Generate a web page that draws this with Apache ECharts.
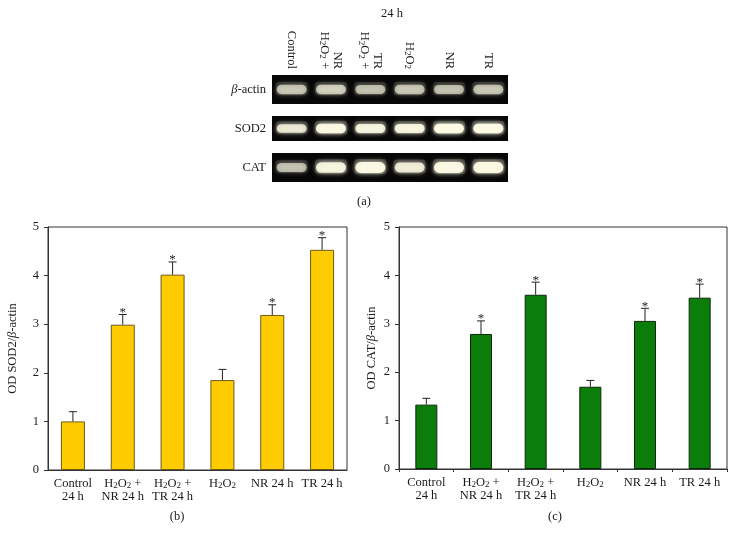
<!DOCTYPE html>
<html>
<head>
<meta charset="utf-8">
<script src="https://cdn.jsdelivr.net/npm/echarts@6/dist/echarts.min.js"></script>
<style>html,body{margin:0;padding:0;background:#fff;}#c{width:736px;height:533px;}</style>
</head>
<body>
<div id="c"></div>
<script>
// ---- data ----
const categories = ['Control\n24 h', 'H\u2082O\u2082 +\nNR 24 h', 'H\u2082O\u2082 +\nTR 24 h', 'H\u2082O\u2082', 'NR 24 h', 'TR 24 h'];
const sod2Values = [1.0, 2.99, 4.02, 1.85, 3.19, 4.53];
const sod2ErrTop = [1.2, 3.2, 4.28, 2.07, 3.4, 4.78];
const sod2Sig = [0, 1, 1, 0, 1, 1];
const catValues = [1.33, 2.79, 3.6, 1.7, 3.06, 3.54];
const catErrTop = [1.46, 3.06, 3.86, 1.83, 3.32, 3.82];
const catSig = [0, 1, 1, 0, 1, 1];
const yTicks = [0, 1, 2, 3, 4, 5];
const gelLanes = ['Control', 'H\u2082O\u2082 +\nNR', 'H\u2082O\u2082 +\nTR', 'H\u2082O\u2082', 'NR', 'TR'];
const gelRows = ['β-actin', 'SOD2', 'CAT'];
const actinBand = [0.62, 0.66, 0.6, 0.62, 0.6, 0.62];
const sod2Band = [0.8, 0.95, 0.88, 0.9, 1.0, 1.0];
const catBand = [0.6, 0.88, 0.95, 0.82, 0.95, 0.95];
const gelBands = [actinBand, sod2Band, catBand];

// ---- styles ----
const FONT = '"Liberation Serif", "DejaVu Serif", serif';
const TXT = '#1a1a1a';
const FS = 12.5;

// converts "H₂O₂" into rich text with a lowered subscript
function subRich(v, reverseLines) {
  let lines = v.split('\n');
  if (reverseLines) lines = lines.reverse();
  return lines.map(l => '{n|' + l.split('\u2082').join('}{s|2}{n|') + '}').join('\n');
}
const labelRich = {
  n: {fontFamily: FONT, fontSize: FS, color: TXT, lineHeight: 13, verticalAlign: 'middle'},
  s: {fontFamily: FONT, fontSize: 9, color: TXT, lineHeight: 5, verticalAlign: 'bottom'}
};

const chart = echarts.init(document.getElementById('c'), null, {renderer: 'canvas'});

function valueAxis(gridIndex, name, nameGap) {
  return {
    type: 'value', gridIndex: gridIndex, min: yTicks[0], max: yTicks[yTicks.length - 1], interval: 1,
    name: name, nameLocation: 'middle', nameGap: nameGap,
    nameTextStyle: {fontFamily: FONT, fontSize: FS, color: TXT, rich: {
      a: {fontFamily: FONT, fontSize: FS, color: TXT},
      i: {fontFamily: FONT, fontSize: FS, color: TXT, fontStyle: 'italic'}
    }},
    axisLine: {show: true, lineStyle: {color: '#333', width: 1}},
    axisTick: {show: true, inside: false, length: 4, lineStyle: {color: '#333'}},
    axisLabel: {fontFamily: FONT, fontSize: FS, color: TXT, margin: 9},
    splitLine: {show: false}
  };
}
function catAxis(gridIndex, ticks) {
  return {
    type: 'category', gridIndex: gridIndex, data: categories, boundaryGap: true,
    axisLine: {show: true, lineStyle: {color: '#333', width: 1}},
    axisTick: {show: ticks, length: 3, alignWithLabel: false, lineStyle: {color: '#333'}},
    axisLabel: {fontFamily: FONT, fontSize: FS, color: TXT, margin: 7, interval: 0,
      formatter: v => subRich(v, false), rich: labelRich}
  };
}
function errSeries(idx, vals, tops, sig) {
  return {
    type: 'custom', xAxisIndex: idx, yAxisIndex: idx, z: 5,
    data: vals.map((v, i) => [i, v, tops[i], sig[i]]),
    encode: {x: 0, y: 1},
    renderItem: function (params, api) {
      const p0 = api.coord([api.value(0), api.value(1)]);
      const p1 = api.coord([api.value(0), api.value(2)]);
      const children = [
        {type: 'line', shape: {x1: p0[0], y1: p0[1], x2: p1[0], y2: p1[1]}, style: {stroke: '#222', lineWidth: 1}},
        {type: 'line', shape: {x1: p1[0] - 4, y1: p1[1], x2: p1[0] + 4, y2: p1[1]}, style: {stroke: '#222', lineWidth: 1}}
      ];
      if (api.value(3)) {
        children.push({type: 'text', x: p1[0], y: p1[1] - 2, style: {text: '*', fontFamily: FONT, fontSize: 13, fill: TXT, align: 'center', verticalAlign: 'middle'}});
      }
      return {type: 'group', children: children};
    }
  };
}
function gelSeries(row) {
  return {
    type: 'custom', xAxisIndex: 2 + row, yAxisIndex: 2 + row, z: 3,
    data: gelBands[row].map((v, i) => [i, 0, v]),
    encode: {x: 0, y: 1},
    renderItem: function (params, api) {
      const c = api.coord([api.value(0), 0]);
      const s = api.size([1, 1]);
      const a = api.value(2);
      const w = s[0] * 0.76;
      const h = s[1] * (0.22 + 0.16 * a);
      return {type: 'group', children: [
        {type: 'rect', shape: {x: c[0] - w / 2 - 1, y: c[1] - h / 2 - 3, width: w + 2, height: h + 4, r: 3},
          style: {fill: 'rgba(200,200,190,' + (0.25 * a) + ')', shadowBlur: 6, shadowColor: 'rgba(200,200,190,0.4)'}},
        {type: 'rect', shape: {x: c[0] - w / 2, y: c[1] - h / 2, width: w, height: h, r: h / 2},
          style: {fill: 'rgba(252,250,228,' + a + ')', shadowBlur: 5, shadowColor: 'rgba(255,252,225,' + a + ')'}}
      ]};
    }
  };
}

const gelTops = [75, 116, 153];
const gelHeights = [29, 25, 29];

const option = {
  animation: false,
  backgroundColor: '#fff',
  grid: [
    {left: 48, top: 227, width: 299, height: 243, show: true, borderColor: '#333', borderWidth: 1, backgroundColor: 'transparent'},
    {left: 399, top: 227, width: 328, height: 242, show: true, borderColor: '#333', borderWidth: 1, backgroundColor: 'transparent'},
    {left: 272, top: gelTops[0], width: 236, height: gelHeights[0], show: true, backgroundColor: '#070707', borderWidth: 0},
    {left: 272, top: gelTops[1], width: 236, height: gelHeights[1], show: true, backgroundColor: '#070707', borderWidth: 0},
    {left: 272, top: gelTops[2], width: 236, height: gelHeights[2], show: true, backgroundColor: '#070707', borderWidth: 0}
  ],
  xAxis: [
    catAxis(0, false),
    catAxis(1, true),
    {type: 'category', gridIndex: 2, data: gelLanes, position: 'top', axisLine: {show: false}, axisTick: {show: false},
      axisLabel: {rotate: 90, fontFamily: FONT, fontSize: FS, color: TXT, margin: 6, interval: 0,
        formatter: v => subRich(v, true), rich: labelRich}},
    {type: 'category', gridIndex: 3, data: gelLanes, show: false},
    {type: 'category', gridIndex: 4, data: gelLanes, show: false}
  ],
  yAxis: [
    valueAxis(0, '{a|OD SOD2/}{i|β}{a|-actin}', 29),
    valueAxis(1, '{a|OD CAT/}{i|β}{a|-actin}', 21)
  ].concat([0, 1, 2].map(r => ({
    type: 'category', gridIndex: 2 + r, data: [gelRows[r]],
    axisLine: {show: false}, axisTick: {show: false},
    axisLabel: {fontFamily: FONT, fontSize: FS, color: TXT, margin: 6,
      formatter: v => v.indexOf('β') === 0 ? '{i|β}' + v.slice(1) : v,
      rich: {i: {fontFamily: FONT, fontSize: FS, color: TXT, fontStyle: 'italic'}}}
  }))),
  graphic: [
    {type: 'text', x: 392, y: 14, style: {text: '24 h', fontFamily: FONT, fontSize: FS, fill: TXT, align: 'center', verticalAlign: 'middle'}},
    {type: 'text', x: 364, y: 202, style: {text: '(a)', fontFamily: FONT, fontSize: FS, fill: TXT, align: 'center', verticalAlign: 'middle'}},
    {type: 'text', x: 177, y: 517, style: {text: '(b)', fontFamily: FONT, fontSize: FS, fill: TXT, align: 'center', verticalAlign: 'middle'}},
    {type: 'text', x: 555, y: 517, style: {text: '(c)', fontFamily: FONT, fontSize: FS, fill: TXT, align: 'center', verticalAlign: 'middle'}}
  ],
  series: [
    {type: 'bar', xAxisIndex: 0, yAxisIndex: 0, data: sod2Values, barWidth: 24,
      itemStyle: {color: '#FFCC00', borderColor: '#6e5a1a', borderWidth: 1}},
    {type: 'bar', xAxisIndex: 1, yAxisIndex: 1, data: catValues, barWidth: 22,
      itemStyle: {color: '#0a7d0a', borderColor: '#0b2a0b', borderWidth: 1}},
    errSeries(0, sod2Values, sod2ErrTop, sod2Sig),
    errSeries(1, catValues, catErrTop, catSig),
    gelSeries(0), gelSeries(1), gelSeries(2)
  ]
};
chart.setOption(option);
</script>
</body>
</html>
